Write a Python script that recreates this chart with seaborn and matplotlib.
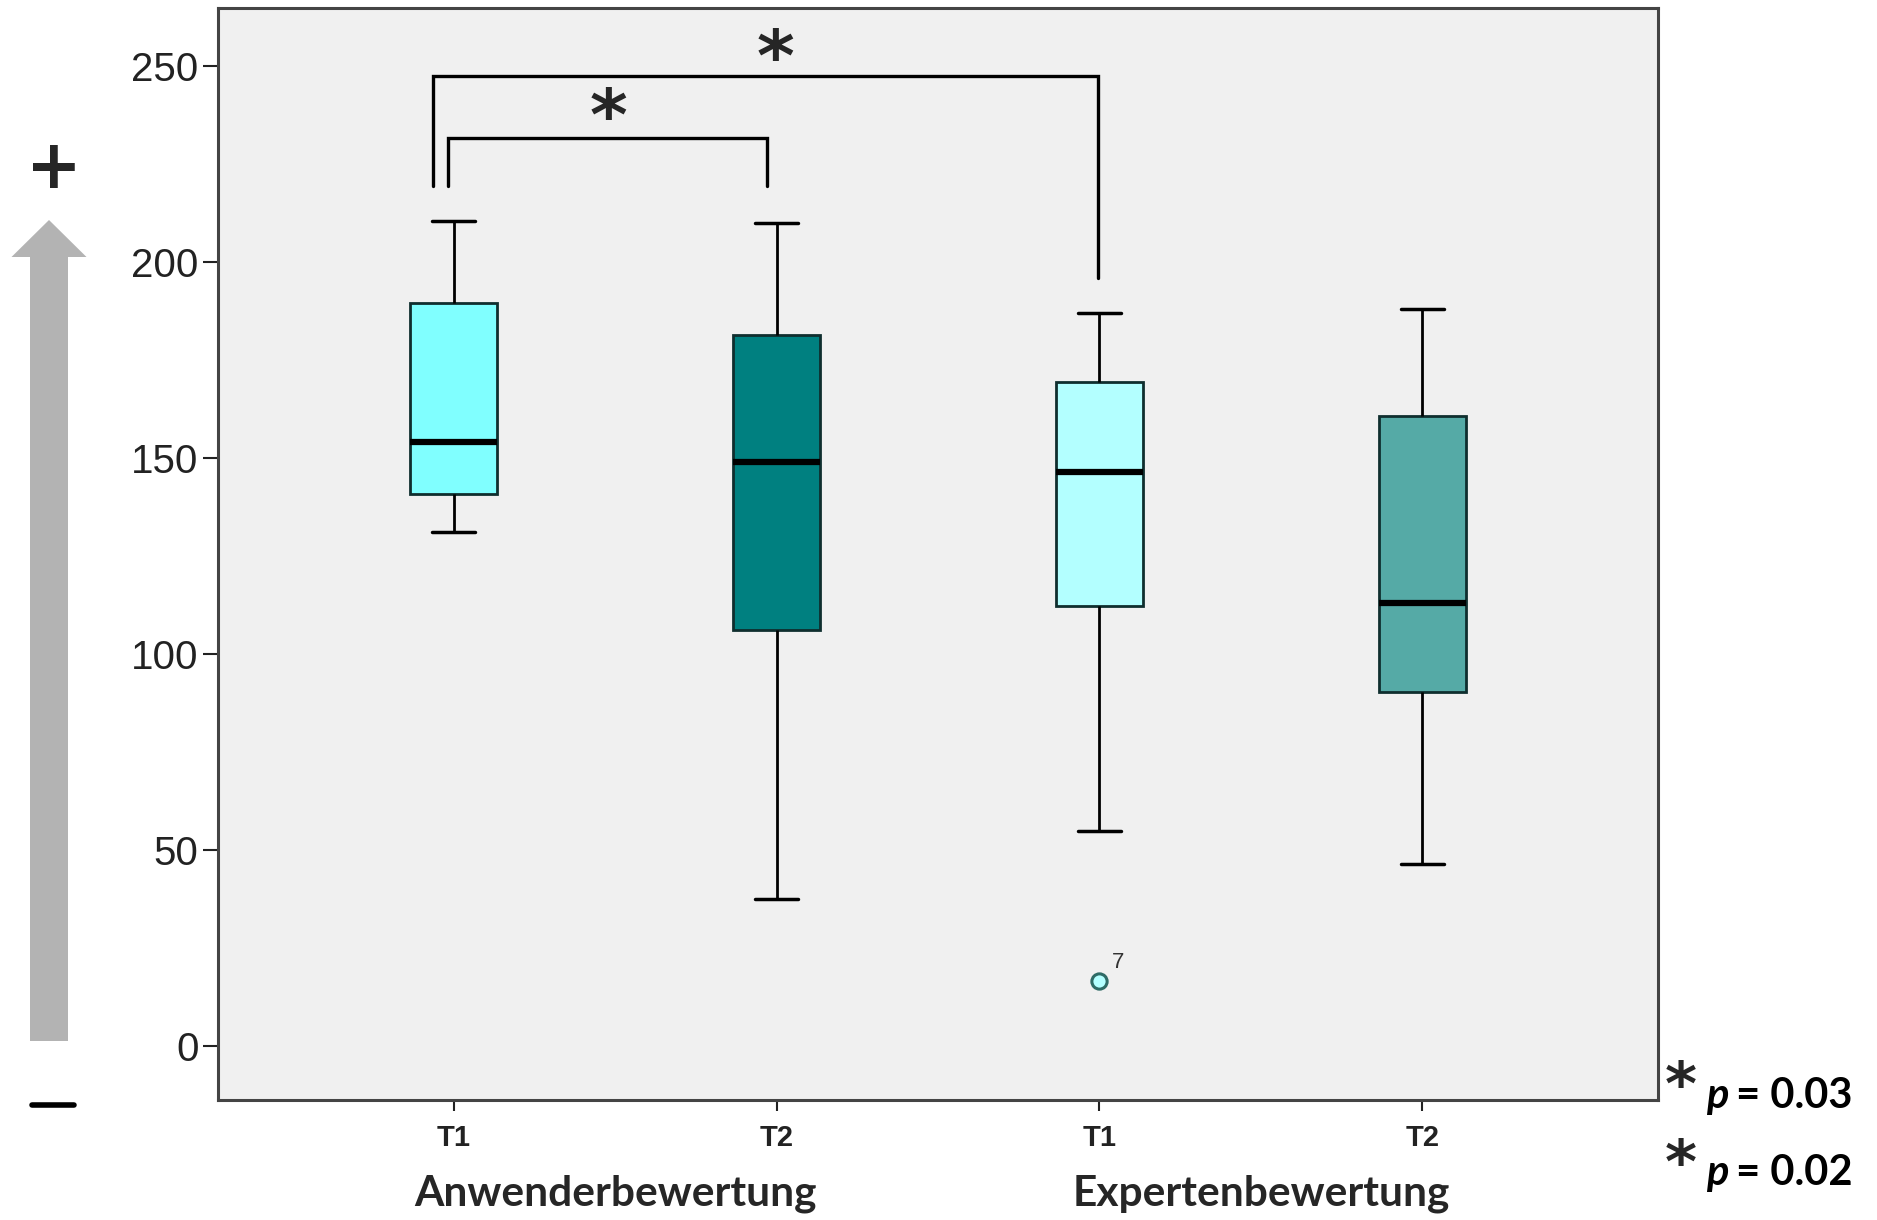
import matplotlib
matplotlib.use("Agg")
import matplotlib.pyplot as plt
from matplotlib.patches import FancyArrow
from matplotlib.lines import Line2D
import matplotlib.transforms as mtransforms
import seaborn as sns
import pandas as pd

categories = ["Anwender T1", "Anwender T2", "Experten T1", "Experten T2"]
tick_labels = ["T1", "T2", "T1", "T2"]
group_labels = ["Anwenderbewertung", "Expertenbewertung"]
anwender_t1 = [131, 140.9, 140.9, 154, 189.6, 189.6, 210.4]
anwender_t2 = [37.5, 106, 106, 149, 181.4, 181.4, 210]
experten_t1 = [16.5, 54.9, 112.2, 112.2, 146.3, 169.5, 169.5, 187, 187]
experten_t2 = [46.3, 90.2, 90.2, 113, 160.7, 160.7, 188]
box_colors = ["#80FFFF", "#008080", "#B3FFFF", "#55AAA6"]
outlier_label = "7"
p_texts = ["p = 0.03", "p = 0.02"]

rows = []
for cat, vals in zip(categories, [anwender_t1, anwender_t2, experten_t1, experten_t2]):
    for v in vals:
        rows.append({"cat": cat, "value": v})
df = pd.DataFrame(rows)

W, H, DPI = 1877, 1220, 100
sns.set_style("white")
plt.rcParams["font.family"] = ["Liberation Sans", "DejaVu Sans"]

fig = plt.figure(figsize=(W / DPI, H / DPI), dpi=DPI)
ax = fig.add_axes([218 / W, 1 - 1100 / H, (1658 - 218) / W, (1100 - 8) / H])
ax.set_facecolor("#F0F0F0")

sns.boxplot(
    data=df, x="cat", y="value", hue="cat", order=categories, hue_order=categories,
    palette=box_colors, width=0.27, whis=1.5, linewidth=2.0, linecolor="#0F2E2E",
    legend=False, ax=ax, saturation=1,
    medianprops={"color": "black", "linewidth": 4.5},
    whiskerprops={"color": "black", "linewidth": 2.0},
    capprops={"color": "black", "linewidth": 2.5},
    flierprops={"marker": "o", "markersize": 11, "markerfacecolor": "#B3FFFF",
                "markeredgecolor": "#2E6B66", "markeredgewidth": 2.2},
)

ax.set_xlim(-0.73, 3.73)
ax.set_ylim(-13.8, 264.8)
ax.set_yticks([0, 50, 100, 150, 200, 250])
ax.set_xticks(range(4))
ax.set_xticklabels(tick_labels, fontsize=21, fontweight="bold", color="#222222")
ax.tick_params(axis="y", labelsize=29, length=11, width=1.5, pad=3, colors="#222222",
               direction="out", left=True)
ax.tick_params(axis="x", length=8, width=1.5, pad=9, colors="#222222", direction="out", bottom=True)
ax.set_xlabel("")
ax.set_ylabel("")
for s in ax.spines.values():
    s.set_visible(True)
    s.set_color("#444444")
    s.set_linewidth(2.2)

# outlier label
ax.annotate(outlier_label, xy=(2, experten_t1[0]), xytext=(9, 6), textcoords="offset points",
            fontsize=16, color="#333333", ha="left", va="bottom")

# significance brackets
blw = 2.4
ax.plot([-0.064, -0.064, 1.996, 1.996], [219.3, 247.5, 247.5, 196], color="black", lw=blw,
        solid_joinstyle="miter")
ax.plot([-0.019, -0.019, 0.97, 0.97], [219.3, 231.7, 231.7, 219.3], color="black", lw=blw,
        solid_joinstyle="miter")
ax.text(0.997, 251.2, "*", fontsize=52, fontweight="bold", ha="center", va="center",
        family=["DejaVu Sans"])
ax.text(0.48, 236.0, "*", fontsize=52, fontweight="bold", ha="center", va="center",
        family=["DejaVu Sans"])

# group labels
fig_y = lambda py: 1 - py / H
bt = mtransforms.blended_transform_factory(ax.transData, fig.transFigure)
for xpos, lab in zip([0.5, 2.5], group_labels):
    ax.text(xpos, fig_y(1194), lab, transform=bt, fontsize=30.5, fontweight="bold",
            ha="center", va="center", family=["Lato", "DejaVu Sans"], clip_on=False)

# p-value legend
for (ys, yp), pt in zip([(1089, 1096), (1167, 1173)], p_texts):
    fig.text(1681 / W, fig_y(ys), "*", fontsize=44, fontweight="bold", ha="center", va="center",
             family=["DejaVu Sans"])
    pp, rest = pt.split(" ", 1)
    fig.text(1706 / W, fig_y(yp), pp, fontsize=30, fontweight="bold", style="italic",
             ha="left", va="center", family=["Lato", "DejaVu Sans"], color="black")
    fig.text(1736 / W, fig_y(yp), rest, fontsize=30, fontweight="bold",
             ha="left", va="center", family=["Lato", "DejaVu Sans"], color="black")

# left arrow and +/- signs
arrow = FancyArrow(49 / W, fig_y(1041), 0, (1041 - 220) / H, width=38 / W,
                   head_width=75 / W, head_length=37 / H, length_includes_head=True,
                   transform=fig.transFigure, color="#B3B3B3", lw=0)
fig.patches.append(arrow)
fig.text(54 / W, fig_y(169), "+", fontsize=48, fontweight="bold", ha="center", va="center",
         family=["DejaVu Sans"])
fig.lines.append(Line2D([32 / W, 74 / W], [fig_y(1105), fig_y(1105)],
                        transform=fig.transFigure, color="black", lw=4))

fig.savefig("out.png", dpi=DPI, facecolor="white")
